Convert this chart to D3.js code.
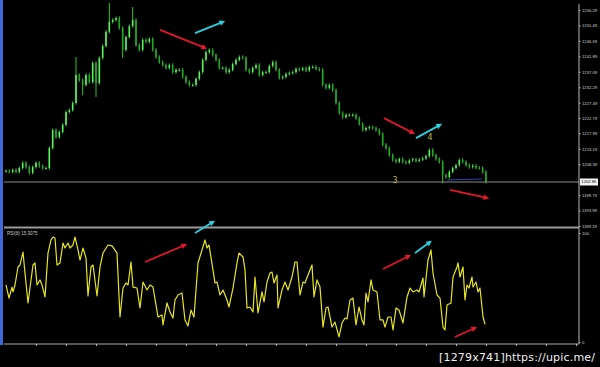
<!DOCTYPE html>
<html>
<head>
<meta charset="utf-8">
<script src="https://cdn.jsdelivr.net/npm/d3@7"></script>
<style>
  body { margin: 0; background: #000; }
  svg { display: block; }
</style>
</head>
<body>
<div id="chart"></div>
<script>
// closing prices, one per bar
var closes = [
    1206.3, 1206.0, 1206.6, 1206.0, 1207.2, 1208.8, 1207.5, 1205.7, 1207.5, 1208.8,
    1207.8, 1207.2, 1207.2, 1213.4, 1219.0, 1216.8, 1218.4, 1220.6, 1224.6, 1225.2,
    1227.4, 1236.1, 1234.5, 1233.0, 1236.1, 1233.9, 1239.8, 1233.6, 1241.4, 1245.1,
    1249.5, 1252.6, 1253.2, 1253.8, 1250.7, 1243.9, 1247.9, 1251.3, 1253.2, 1245.4,
    1243.9, 1247.0, 1246.4, 1247.3, 1243.9, 1241.7, 1240.1, 1239.2, 1238.3, 1239.2,
    1237.0, 1237.7, 1237.7, 1235.5, 1233.9, 1233.0, 1233.0, 1234.9, 1237.0, 1240.8,
    1243.2, 1243.9, 1242.3, 1240.8, 1238.3, 1238.3, 1237.0, 1237.7, 1239.5, 1240.8,
    1241.7, 1241.4, 1237.7, 1237.0, 1238.3, 1239.2, 1236.1, 1237.0, 1237.0, 1238.9,
    1240.1, 1237.7, 1235.2, 1235.5, 1236.4, 1236.7, 1237.0, 1238.0, 1237.7, 1238.2,
    1237.5, 1238.6, 1238.6, 1238.0, 1237.7, 1233.0, 1232.1, 1233.0, 1231.4, 1227.4,
    1224.3, 1223.0, 1223.7, 1223.7, 1223.7, 1222.7, 1220.9, 1219.0, 1219.6, 1219.9,
    1219.6, 1219.0, 1217.8, 1214.4, 1213.4, 1211.2, 1209.7, 1209.2, 1210.0, 1209.1,
    1208.8, 1209.6, 1209.9, 1209.4, 1209.8, 1210.2, 1210.9, 1212.8, 1211.2, 1210.0,
    1209.1, 1205.0, 1204.4, 1206.0, 1207.2, 1208.1, 1209.7, 1209.1, 1208.1, 1207.5,
    1207.9, 1207.3, 1207.2, 1206.0, 1202.9
];
// bars whose shadow sticks out
var spikeHighs = [[21, 1241.7], [31, 1258.5], [38, 1257.2]];
var spikeLows = [[23, 1229.9], [27, 1229.3], [35, 1241.4], [131, 1202.5]];

var bidPrice = 1202.86;
var priceTicks = [1256.29, 1251.49, 1246.69, 1241.89, 1237.09, 1232.29, 1227.49, 1222.79,
    1217.99, 1213.19, 1208.39, 1198.79, 1193.99, 1189.19];
var rsiTicks = [0, 100];
var timeTicks = [9, 18, 27, 36, 45, 54, 63, 72, 81, 90, 99, 108, 117, 126, 135, 144, 153, 162, 171];

// RSI(8): [bar, value]
var rsi = [
    [0, 51.4], [0.9, 39.4], [1.8, 49.5], [2.1, 45.0], [2.7, 51.4], [3.6, 67.9], [4.2, 69.7],
    [5.1, 81.6], [5.7, 62.4], [6.6, 34.9], [8.1, 69.7], [8.7, 71.6], [9.3, 51.4], [10.2, 56.0],
    [10.8, 51.4], [11.7, 40.4], [12.6, 80.7], [13.5, 92.7], [14.1, 95.4], [14.7, 94.5],
    [15.3, 69.7], [16.2, 71.6], [17.1, 89.9], [17.7, 85.3], [18.6, 89.9], [19.2, 85.3],
    [20.1, 88.1], [20.7, 95.4], [21.6, 83.5], [22.2, 74.3], [23.1, 85.3], [24.0, 76.1],
    [24.6, 41.3], [25.5, 67.9], [26.1, 69.7], [27.3, 41.3], [28.2, 67.9], [29.1, 80.7],
    [30.6, 88.1], [31.8, 87.2], [33.3, 80.7], [34.2, 22.0], [35.1, 48.6], [36.0, 53.2],
    [36.6, 51.4], [37.5, 72.5], [38.1, 49.5], [39.3, 48.6], [40.2, 30.3], [41.1, 54.1],
    [42.3, 46.8], [43.2, 51.4], [44.1, 49.5], [45.6, 22.0], [46.8, 23.9], [47.1, 14.7],
    [48.3, 34.9], [49.2, 26.6], [50.1, 21.1], [50.7, 37.6], [51.6, 42.2], [52.8, 44.0],
    [53.7, 19.3], [54.6, 13.8], [55.5, 28.4], [56.4, 22.0], [57.6, 71.6], [58.8, 83.5],
    [59.7, 92.7], [60.3, 85.3], [60.9, 88.1], [62.1, 65.1], [62.7, 53.2], [63.3, 54.1],
    [64.2, 42.2], [65.1, 46.8], [66.3, 37.6], [66.9, 31.2], [68.1, 48.6], [69.3, 71.6],
    [69.9, 80.7], [71.1, 77.1], [71.7, 65.1], [72.3, 30.3], [73.2, 31.2], [74.1, 26.6],
    [74.7, 58.7], [75.6, 25.7], [76.8, 45.0], [77.4, 35.8], [78.3, 54.1], [79.2, 62.4],
    [79.8, 63.3], [80.4, 53.2], [81.3, 60.5], [81.6, 30.3], [82.8, 46.8], [83.7, 54.1],
    [84.6, 46.8], [85.8, 58.7], [86.7, 72.5], [87.3, 72.5], [88.2, 42.2], [89.1, 54.1],
    [89.7, 53.2], [90.6, 60.5], [91.8, 69.7], [92.4, 40.4], [93.3, 56.0], [94.2, 49.5],
    [95.1, 12.8], [96.0, 30.3], [96.6, 31.2], [97.8, 12.8], [98.7, 17.4], [99.9, 3.7],
    [100.8, 16.5], [101.7, 21.1], [102.3, 20.2], [103.2, 37.6], [104.1, 39.4], [105.0, 14.7],
    [105.9, 31.2], [106.8, 19.3], [107.4, 14.7], [108.0, 44.0], [108.6, 35.8], [109.5, 56.0],
    [110.1, 46.8], [111.3, 45.0], [112.2, 19.3], [113.1, 19.3], [113.7, 12.8], [114.6, 22.0],
    [115.5, 22.0], [116.1, 10.1], [117.0, 30.3], [117.9, 28.4], [119.1, 16.5], [120.3, 40.4],
    [121.2, 48.6], [122.1, 45.0], [123.3, 46.8], [123.9, 45.0], [125.1, 57.8], [125.4, 40.4],
    [126.6, 74.3], [127.5, 83.5], [128.1, 62.4], [129.3, 42.2], [130.2, 39.4], [131.1, 12.8],
    [131.7, 10.1], [132.3, 33.0], [133.5, 34.9], [134.1, 58.7], [135.3, 67.9], [135.6, 71.6],
    [136.2, 58.7], [137.1, 67.9], [137.7, 37.6], [138.3, 51.4], [138.9, 48.6], [139.8, 58.7],
    [140.1, 49.5], [141.0, 54.1], [141.6, 45.0], [142.2, 48.6], [143.1, 22.0], [143.7, 15.3]
];
var rsiLabel = "RSI(8) 15.3075";

// hand-drawn arrows: [bar0, value0, bar1, value1, colour]
var priceArrows = [
    [46.2, 1250.1, 59.7, 1244.5, "red"],
    [56.7, 1249.1, 65.1, 1252.6, "cyan"],
    [113.4, 1222.7, 122.1, 1218.1, "red"],
    [123.0, 1216.5, 130.2, 1220.6, "cyan"],
    [133.2, 1200.4, 144.3, 1197.9, "red"]
];
var rsiArrows = [
    [41.7, 72.5, 53.7, 88.1, "red"],
    [56.7, 99.1, 62.1, 109.2, "cyan"],
    [113.1, 66.1, 120.9, 78.0, "red"],
    [122.7, 80.7, 127.2, 90.8, "cyan"],
    [134.7, 3.7, 140.7, 11.9, "red"]
];
var waveLabels = [["3", 116.7, 1203.5], ["4", 127.2, 1216.8]];
var trendLine = [[132.3, 1203.5], [142.8, 1203.8]];

var W = 600, H = 367;
var axisX = 579;
var colors = { red: "#e3172b", cyan: "#2ccfe0" };

var svg = d3.select("#chart").append("svg")
    .attr("width", W).attr("height", H)
    .style("background", "#000");

var x = d3.scaleLinear().domain([0, 144]).range([6, 486]);
var y = d3.scaleLinear().domain([1189.19, 1256.29]).range([226, 10]);
var yr = d3.scaleLinear().domain([0, 100]).range([341, 232]);

// arrow heads
var defs = svg.append("defs");
Object.keys(colors).forEach(function(k) {
    defs.append("marker")
        .attr("id", "head-" + k)
        .attr("viewBox", "0 0 10 10")
        .attr("refX", 6).attr("refY", 5)
        .attr("markerWidth", 3.2).attr("markerHeight", 3.2)
        .attr("orient", "auto")
        .append("path")
        .attr("d", "M0,0L10,5L0,10z")
        .attr("fill", colors[k]);
});

// left window edge
svg.append("rect").attr("x", 0).attr("y", 0).attr("width", 3).attr("height", 345)
    .attr("fill", "#3d6ad6");

// ---- price panel ----
var main = svg.append("g").attr("clip-path", "url(#clipMain)");
defs.append("clipPath").attr("id", "clipMain")
    .append("rect").attr("x", 4).attr("y", 0).attr("width", axisX - 4).attr("height", 226);

// bid line
svg.append("line")
    .attr("x1", 4).attr("x2", axisX)
    .attr("y1", y(bidPrice)).attr("y2", y(bidPrice))
    .attr("stroke", "#8a8a8a").attr("stroke-width", 1);

var bars = closes.map(function(c, i) {
    var o = i > 0 ? closes[i - 1] : c;
    var hi = Math.max(o, c) + 0.5, lo = Math.min(o, c) - 0.5;
    spikeHighs.forEach(function(s) { if (s[0] === i) hi = s[1]; });
    spikeLows.forEach(function(s) { if (s[0] === i) lo = s[1]; });
    return { i: i, o: o, c: c, h: hi, l: lo };
});

main.selectAll(".wick").data(bars).enter().append("line")
    .attr("class", "wick")
    .attr("x1", function(d) { return x(d.i); })
    .attr("x2", function(d) { return x(d.i); })
    .attr("y1", function(d) { return y(d.h); })
    .attr("y2", function(d) { return y(d.l); })
    .attr("stroke", "#30c430").attr("stroke-width", 1);

main.selectAll(".body").data(bars).enter().append("rect")
    .attr("class", "body")
    .attr("x", function(d) { return x(d.i) - 0.8; })
    .attr("width", 1.6)
    .attr("y", function(d) { return y(Math.max(d.o, d.c)); })
    .attr("height", function(d) { return Math.max(1, Math.abs(y(d.o) - y(d.c))); })
    .attr("fill", function(d) { return d.c >= d.o ? "#5cf05c" : "#22a822"; });

// trend line
main.append("path")
    .attr("d", d3.line().x(function(d) { return x(d[0]); }).y(function(d) { return y(d[1]); })(trendLine))
    .attr("stroke", "#2a44a8").attr("stroke-width", 1).attr("fill", "none");

svg.selectAll(".wave").data(waveLabels).enter().append("text")
    .attr("x", function(d) { return x(d[1]); })
    .attr("y", function(d) { return y(d[2]); })
    .attr("dy", "0.35em")
    .attr("text-anchor", "middle")
    .attr("font-family", "DejaVu Sans").attr("font-size", 8)
    .attr("fill", "#b9b94a")
    .text(function(d) { return d[0]; });

function drawArrows(list, ys) {
    svg.append("g").selectAll("line").data(list).enter().append("line")
        .attr("x1", function(d) { return x(d[0]); })
        .attr("y1", function(d) { return ys(d[1]); })
        .attr("x2", function(d) { return x(d[2]); })
        .attr("y2", function(d) { return ys(d[3]); })
        .attr("stroke", function(d) { return colors[d[4]]; })
        .attr("stroke-width", 1.8)
        .attr("marker-end", function(d) { return "url(#head-" + d[4] + ")"; });
}
drawArrows(priceArrows, y);

// panel separator
svg.append("line").attr("x1", 4).attr("x2", axisX).attr("y1", 227.5).attr("y2", 227.5)
    .attr("stroke", "#9a9a9a").attr("stroke-width", 2);

// ---- RSI panel ----
svg.append("path")
    .datum(rsi)
    .attr("d", d3.line().x(function(d) { return x(d[0]); }).y(function(d) { return yr(d[1]); }))
    .attr("fill", "none")
    .attr("stroke", "#e8e620")
    .attr("stroke-width", 1.2)
    .attr("stroke-linejoin", "round");

drawArrows(rsiArrows, yr);

svg.append("text")
    .attr("x", 7).attr("y", 235)
    .attr("font-family", "Liberation Sans").attr("font-size", 4.5)
    .attr("fill", "#c8c8c8")
    .text(rsiLabel);

// ---- axes ----
var axisStyle = function(g) {
    g.select(".domain").remove();
    g.selectAll(".tick line").attr("stroke", "#bbb");
    g.selectAll(".tick text").attr("fill", "#d0d0d0")
        .attr("font-family", "Liberation Sans").attr("font-size", 4.2);
};

svg.append("line").attr("x1", axisX).attr("x2", axisX).attr("y1", 4).attr("y2", 344)
    .attr("stroke", "#b8b8b8").attr("stroke-width", 1);

svg.append("g")
    .attr("transform", "translate(" + axisX + ",0)")
    .call(d3.axisRight(y).tickValues(priceTicks).tickSize(1.5).tickPadding(1.5).tickFormat(d3.format(".2f")))
    .call(axisStyle);

svg.append("g")
    .attr("transform", "translate(" + axisX + ",1)")
    .call(d3.axisRight(yr).tickValues(rsiTicks).tickSize(1.5).tickPadding(1.5).tickFormat(d3.format("d")))
    .call(axisStyle);

// bid label
var bidG = svg.append("g").attr("transform", "translate(" + (axisX + 1) + "," + y(bidPrice) + ")");
bidG.append("rect").attr("x", 0).attr("y", -3.5).attr("width", 18).attr("height", 7).attr("fill", "#f4f4f4");
bidG.append("text").attr("x", 1.3).attr("dy", "0.35em")
    .attr("font-family", "Liberation Sans").attr("font-size", 4.2).attr("fill", "#000")
    .text(d3.format(".2f")(bidPrice));

// bottom time axis (labels too faint to read)
svg.append("line").attr("x1", 4).attr("x2", axisX).attr("y1", 344).attr("y2", 344)
    .attr("stroke", "#b0b0b0").attr("stroke-width", 1);
svg.append("g")
    .attr("transform", "translate(0,344)")
    .call(d3.axisBottom(x).tickValues(timeTicks).tickSize(2).tickFormat(""))
    .call(axisStyle);

// watermark
svg.append("text")
    .attr("x", 439).attr("y", 361)
    .attr("font-family", "DejaVu Sans").attr("font-size", 11)
    .attr("fill", "#f0f0f0")
    .attr("textLength", 156)
    .text("[1279x741]https://upic.me/");
</script>
</body>
</html>
